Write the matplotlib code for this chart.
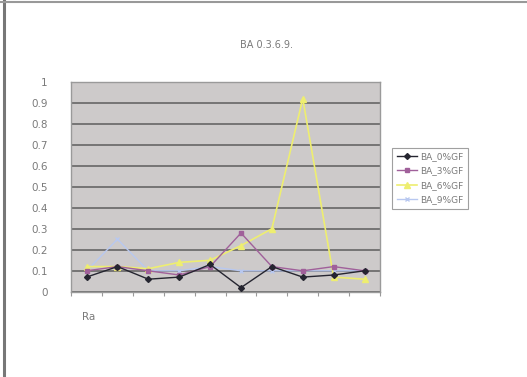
import matplotlib.pyplot as plt
import numpy as np

title = 'BA 0.3.6.9.'
x_title = 'Ra'
series_names = ['BA_0%GF', 'BA_3%GF', 'BA_6%GF', 'BA_9%GF']
ba_0 = [0.07, 0.12, 0.06, 0.07, 0.13, 0.02, 0.12, 0.07, 0.08, 0.10]
ba_3 = [0.10, 0.12, 0.10, 0.08, 0.12, 0.28, 0.12, 0.10, 0.12, 0.10]
ba_6 = [0.12, 0.12, 0.11, 0.14, 0.15, 0.22, 0.30, 0.92, 0.07, 0.06]
ba_9 = [0.10, 0.25, 0.10, 0.10, 0.12, 0.10, 0.10, 0.10, 0.10, 0.10]
y_ticks = [0, 0.1, 0.2, 0.3, 0.4, 0.5, 0.6, 0.7, 0.8, 0.9, 1]
y_tick_labels = ['0', '0.1', '0.2', '0.3', '0.4', '0.5', '0.6', '0.7', '0.8', '0.9', '1']

txt = '#7a7a7a'
fig = plt.figure(figsize=(5.27, 3.77), dpi=100)
fig.patch.set_facecolor('white')

# frame lines along the top and left edge
fig.add_artist(plt.Line2D([0.007, 0.007], [0, 1], color='#777777', lw=2.2))
fig.add_artist(plt.Line2D([0, 1], [0.996, 0.996], color='#999999', lw=1.5))

ax = fig.add_axes([0.135, 0.226, 0.586, 0.557])
ax.set_facecolor('#cdcaca')
x = np.arange(len(ba_0)) + 0.5

ax.plot(x, ba_9, color='#b8c8f0', lw=1.0, marker='x', ms=3, label=series_names[3], zorder=3)
ax.plot(x, ba_6, color='#eeee70', lw=1.2, marker='^', ms=4, label=series_names[2], zorder=4)
ax.plot(x, ba_3, color='#a0609a', lw=1.0, marker='s', ms=3, label=series_names[1], zorder=5)
ax.plot(x, ba_0, color='#252530', lw=1.0, marker='D', ms=3, label=series_names[0], zorder=6)

ax.set_xlim(0, len(ba_0))
ax.set_ylim(0, 1)
ax.set_yticks(y_ticks)
ax.set_yticklabels(y_tick_labels)
ax.set_xticks(np.arange(len(ba_0) + 1))
ax.set_xticklabels([])
ax.tick_params(axis='y', length=0, labelsize=7.5, colors=txt, pad=17)
ax.tick_params(axis='x', length=3, color='#999999', direction='out')
ax.grid(axis='y', color='#6e6e6e', lw=1.3)
ax.set_axisbelow(True)
for s in ax.spines.values():
    s.set_color('#9a9a9a')
    s.set_linewidth(1.0)

fig.text(0.505, 0.88, title, ha='center', va='center', fontsize=7, color=txt)
fig.text(0.168, 0.158, x_title, ha='center', va='center', fontsize=7.5, color=txt)

handles, labels = ax.get_legend_handles_labels()
leg = fig.legend(handles[::-1], labels[::-1], loc='center left',
                 bbox_to_anchor=(0.736, 0.527), fontsize=6.5, frameon=True,
                 fancybox=False, handlelength=2.2, labelspacing=0.6,
                 borderpad=0.5, handletextpad=0.4)
leg.get_frame().set_edgecolor('#888888')
leg.get_frame().set_linewidth(0.8)
for t in leg.get_texts():
    t.set_color(txt)

plt.savefig('out.png', dpi=100)
plt.close()
